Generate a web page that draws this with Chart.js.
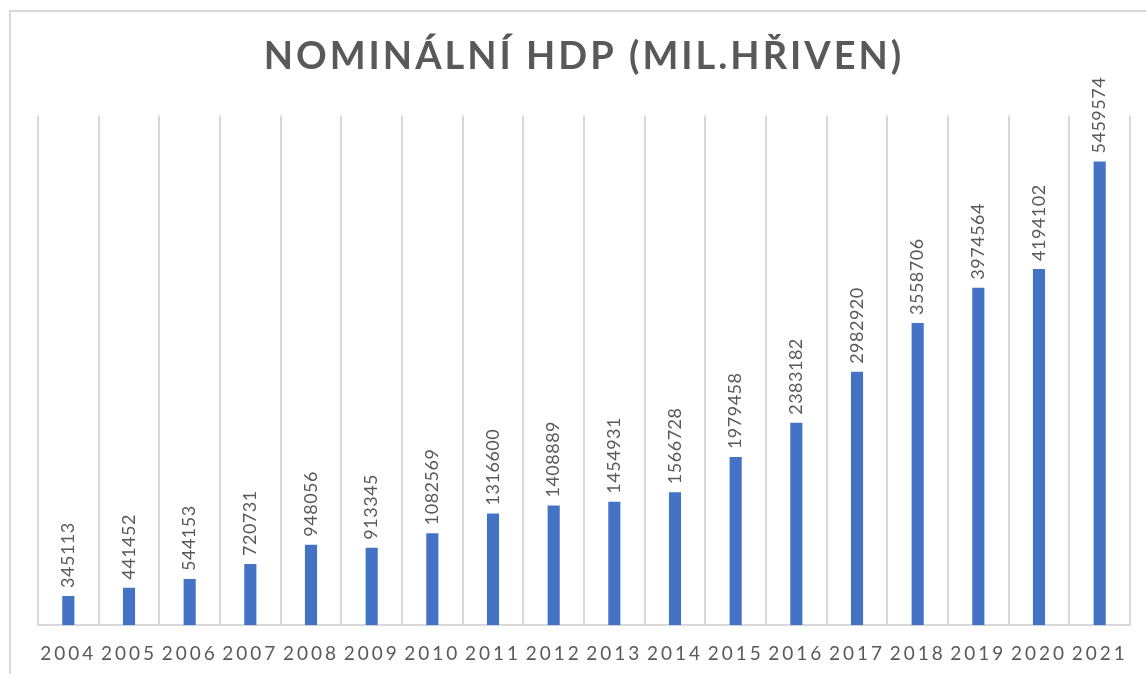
<!DOCTYPE html>
<html>
<head>
<meta charset="utf-8">
<script src="https://cdn.jsdelivr.net/npm/chart.js@4/dist/chart.umd.min.js"></script>
<style>
  html, body { margin: 0; padding: 0; background: #ffffff; }
  #wrap { width: 1146px; height: 674px; position: relative; }
</style>
</head>
<body>
<div id="wrap"><canvas id="c" width="1146" height="674"></canvas></div>
<script>
const years = ['2004','2005','2006','2007','2008','2009','2010','2011','2012','2013','2014','2015','2016','2017','2018','2019','2020','2021'];
const gdp = [345113, 441452, 544153, 720731, 948056, 913345, 1082569, 1316600, 1408889, 1454931, 1566728, 1979458, 2383182, 2982920, 3558706, 3974564, 4194102, 5459574];
const titleText = 'NOMINÁLNÍ HDP (MIL.HŘIVEN)';

const TEXT = '#595959';
const GRID = '#d9d9d9';

const framePlugin = {
  id: 'frame',
  beforeDraw(chart) {
    const ctx = chart.ctx;
    ctx.save();
    ctx.strokeStyle = GRID;
    ctx.lineWidth = 2;
    ctx.beginPath();
    ctx.moveTo(10, 674);
    ctx.lineTo(10, 11);
    ctx.lineTo(1146, 11);
    ctx.stroke();
    ctx.restore();
    ctx.letterSpacing = '3px';
  }
};

const labelPlugin = {
  id: 'valueLabels',
  afterDatasetsDraw(chart) {
    const ctx = chart.ctx;
    const meta = chart.getDatasetMeta(0);
    ctx.save();
    ctx.letterSpacing = '0.5px';
    ctx.fillStyle = TEXT;
    ctx.font = '18px Lato';
    ctx.textAlign = 'left';
    ctx.textBaseline = 'middle';
    meta.data.forEach((bar, i) => {
      ctx.save();
      ctx.translate(bar.x, bar.y - 8);
      ctx.rotate(-Math.PI / 2);
      ctx.fillText(String(gdp[i]), 0, 0);
      ctx.restore();
    });
    ctx.restore();
  }
};

const chart = new Chart(document.getElementById('c'), {
  type: 'bar',
  data: {
    labels: years,
    datasets: [{
      data: gdp,
      backgroundColor: '#4472C4',
      barPercentage: 0.4,
      categoryPercentage: 0.5
    }]
  },
  options: {
    responsive: false,
    animation: false,
    layout: { padding: { left: 38, right: 16, top: 0, bottom: -8 } },
    plugins: {
      legend: { display: false },
      tooltip: { enabled: false },
      title: {
        display: true,
        text: titleText,
        color: TEXT,
        font: { family: 'Lato', size: 38, weight: 'bold', lineHeight: 1.2 },
        padding: { top: 34, bottom: 36 }
      }
    },
    scales: {
      x: {
        offset: true,
        grid: { display: true, offset: true, color: GRID, lineWidth: 2, drawTicks: false },
        border: { display: true, color: GRID, width: 2 },
        ticks: { color: TEXT, font: { family: 'Lato', size: 19 }, padding: 17, maxRotation: 0, autoSkip: false }
      },
      y: {
        display: false,
        min: 0,
        max: 6000000,
        grid: { display: false }
      }
    }
  },
  plugins: [framePlugin, labelPlugin]
});
</script>
</body>
</html>
